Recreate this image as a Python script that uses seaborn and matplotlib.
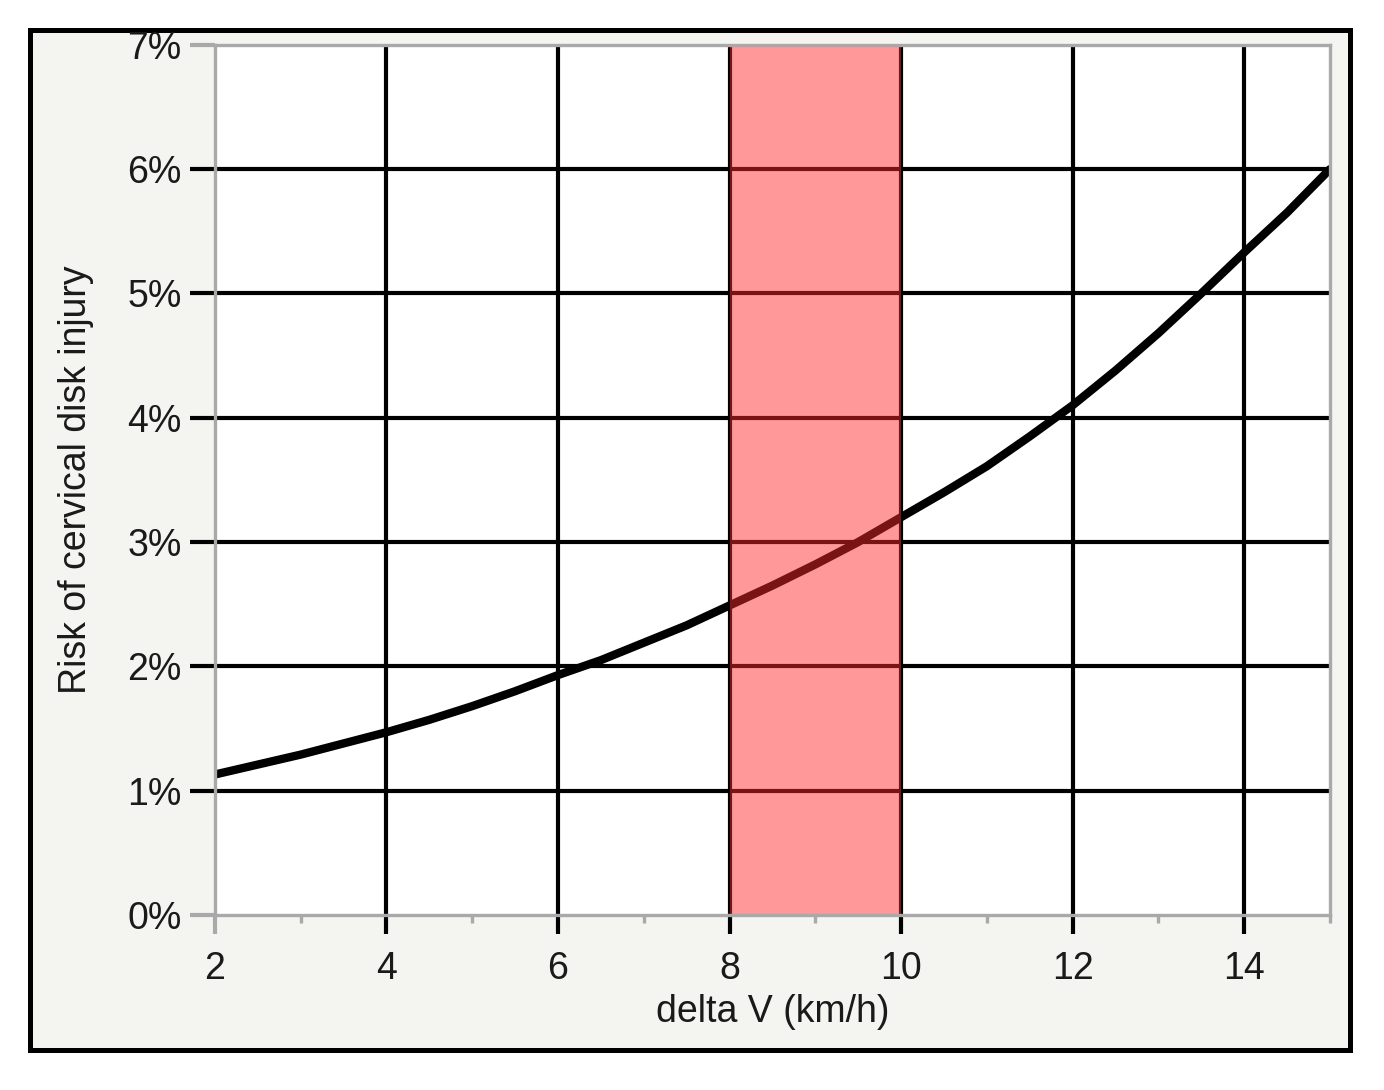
import numpy as np
import pandas as pd
import matplotlib
matplotlib.use('Agg')
import matplotlib.pyplot as plt
import seaborn as sns
from matplotlib.patches import Rectangle
from matplotlib.ticker import PercentFormatter

# values (risk in %)
delta_v = [2, 2.5, 3, 3.5, 4, 4.5, 5, 5.5, 6, 6.5, 7, 7.5, 8, 8.5,
           9, 9.5, 10, 10.5, 11, 11.5, 12, 12.5, 13, 13.5, 14, 14.5, 15]
risk = [1.13, 1.21, 1.29, 1.38, 1.47, 1.57, 1.68, 1.80, 1.93, 2.05, 2.19, 2.33, 2.49, 2.65,
        2.82, 3.00, 3.20, 3.40, 3.61, 3.85, 4.10, 4.38, 4.68, 5.00, 5.33, 5.65, 6.00]
band_range = (8, 10)
x_ticks = [2, 4, 6, 8, 10, 12, 14]
x_minor = [3, 5, 7, 9, 11, 13, 15]
y_ticks = [0, 1, 2, 3, 4, 5, 6, 7]

sns.set_style('white')
plt.rcParams['font.family'] = ['Liberation Sans', 'DejaVu Sans']

gray = '#a9a9a9'
text_col = '#1a1a1a'

fig = plt.figure(figsize=(13.84, 10.9), dpi=100)
fig.patch.set_facecolor('white')
# outer frame around the whole chart
fig.patches.append(Rectangle((0.0217, 0.0367), 0.9538, 0.9358, transform=fig.transFigure,
                             facecolor='#f4f4f0', edgecolor='black', lw=3.6, zorder=-10))

ax = fig.add_axes([0.1553, 0.1606, 0.8056, 0.7982])
ax.set_zorder(1)
ax.set_facecolor('white')

df = pd.DataFrame({'delta_v': delta_v, 'risk': risk})
sns.lineplot(data=df, x='delta_v', y='risk', ax=ax, color='black', lw=6, zorder=2)

# red band
ax.axvspan(band_range[0], band_range[1], color='#ff2a2a', alpha=0.48, lw=0, zorder=3)

ax.set_xlim(2, 15)
ax.set_ylim(0, 7)
ax.set_xticks(x_ticks)
ax.set_xticks(x_minor, minor=True)
ax.set_yticks(y_ticks)
ax.yaxis.set_major_formatter(PercentFormatter(decimals=0))

ax.grid(True, which='major', color='black', lw=3)
ax.set_axisbelow(True)

for s in ax.spines.values():
    s.set_visible(True)
    s.set_color(gray)
    s.set_linewidth(2.4)
    s.set_zorder(4)

ax.tick_params(axis='x', which='major', length=14, width=3, color='black', direction='out',
               pad=12, labelsize=27, labelcolor=text_col, bottom=True)
ax.tick_params(axis='x', which='minor', length=6, width=2.4, color=gray, direction='out', bottom=True)
ax.tick_params(axis='y', which='major', length=18, width=3, color='black', direction='out',
               pad=6, labelsize=27, labelcolor=text_col, left=True)

# edge ticks/gridlines sit on the gray frame
xt = ax.xaxis.get_major_ticks()
xt[0].tick1line.set_markeredgecolor(gray)
xt[0].gridline.set_visible(False)
yt = ax.yaxis.get_major_ticks()
for t in (yt[0], yt[-1]):
    t.tick1line.set_markeredgecolor(gray)
    t.gridline.set_visible(False)

ax.set_xlabel('delta V (km/h)', fontsize=27, color=text_col, labelpad=5)
ax.set_ylabel('Risk of cervical disk injury', fontsize=27, color=text_col, labelpad=24)

fig.savefig('out.png', dpi=100, facecolor=fig.get_facecolor())
